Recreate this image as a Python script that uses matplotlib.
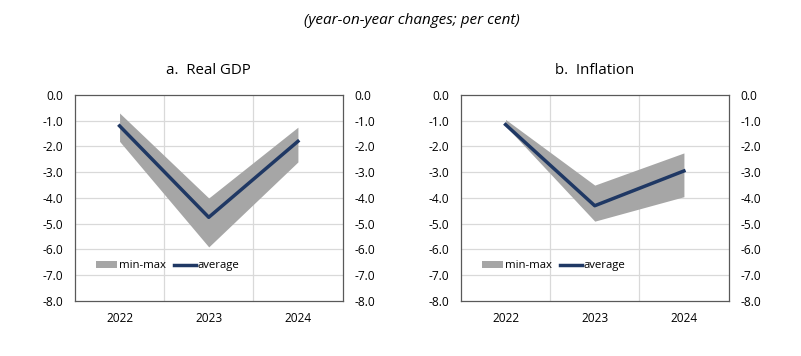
import matplotlib.pyplot as plt
import numpy as np
from matplotlib.patches import Patch
from matplotlib.lines import Line2D

# Data #

years = ['2022', '2023', '2024']

gdp_min = [-1.8, -5.9, -2.6]
gdp_max = [-0.7, -4.0, -1.25]
gdp_avg = [-1.2, -4.75, -1.8]

inf_min = [-1.2, -4.9, -3.95]
inf_max = [-0.95, -3.5, -2.25]
inf_avg = [-1.15, -4.3, -2.95]

yticks = [0, -1, -2, -3, -4, -5, -6, -7, -8]

band_col = '#a6a6a6'
line_col = '#1f3864'
grid_col = '#d9d9d9'
frame_col = '#595959'

plt.rcParams['font.family'] = ['Open Sans', 'DejaVu Sans']

fig = plt.figure(figsize=(8.01, 3.56), dpi=100)
fig.text(0.514, 0.942, '(year-on-year changes; per cent)', ha='center', va='center',
         fontsize=11, style='italic')

panels = [
    (0.0936, 'a.  Real GDP', gdp_min, gdp_max, gdp_avg),
    (0.5755, 'b.  Inflation', inf_min, inf_max, inf_avg),
]

x = np.arange(len(years))

for left, title, lo, hi, avg in panels:
    ax = fig.add_axes([left, 0.1545, 0.3340, 0.5787])
    ax.fill_between(x, lo, hi, color=band_col, linewidth=0, zorder=2)
    ax.plot(x, avg, color=line_col, linewidth=2.5, zorder=3)

    ax.set_xlim(-0.5, 2.5)
    ax.set_ylim(-8, 0)
    ax.set_xticks(x)
    ax.set_xticklabels(years)
    ax.set_yticks(yticks)
    ax.set_yticklabels(['%.1f' % v for v in yticks])
    ax.tick_params(axis='both', length=0, labelsize=8.6)
    ax.tick_params(axis='y', labelright=True, pad=8.5)
    ax.tick_params(axis='x', pad=8)

    # gridlines: horizontal at each tick, vertical between categories
    for v in yticks[1:-1]:
        ax.axhline(v, color=grid_col, linewidth=0.9, zorder=1)
    for v in [0.5, 1.5]:
        ax.axvline(v, color=grid_col, linewidth=0.9, zorder=1)

    for s in ax.spines.values():
        s.set_color(frame_col)
        s.set_linewidth(0.9)

    ax.set_title(title, fontsize=10.8, pad=15)

    handles = [Patch(facecolor=band_col, edgecolor='none', label='min-max'),
               Line2D([0], [0], color=line_col, linewidth=2.5, label='average')]
    ax.legend(handles=handles, loc='center left', bbox_to_anchor=(0.06, 0.17), ncol=2,
              frameon=False, fontsize=8.2, handlelength=1.9, handleheight=0.6,
              handletextpad=0.15, columnspacing=0.7, borderaxespad=0)

plt.savefig('out.png', dpi=100)
